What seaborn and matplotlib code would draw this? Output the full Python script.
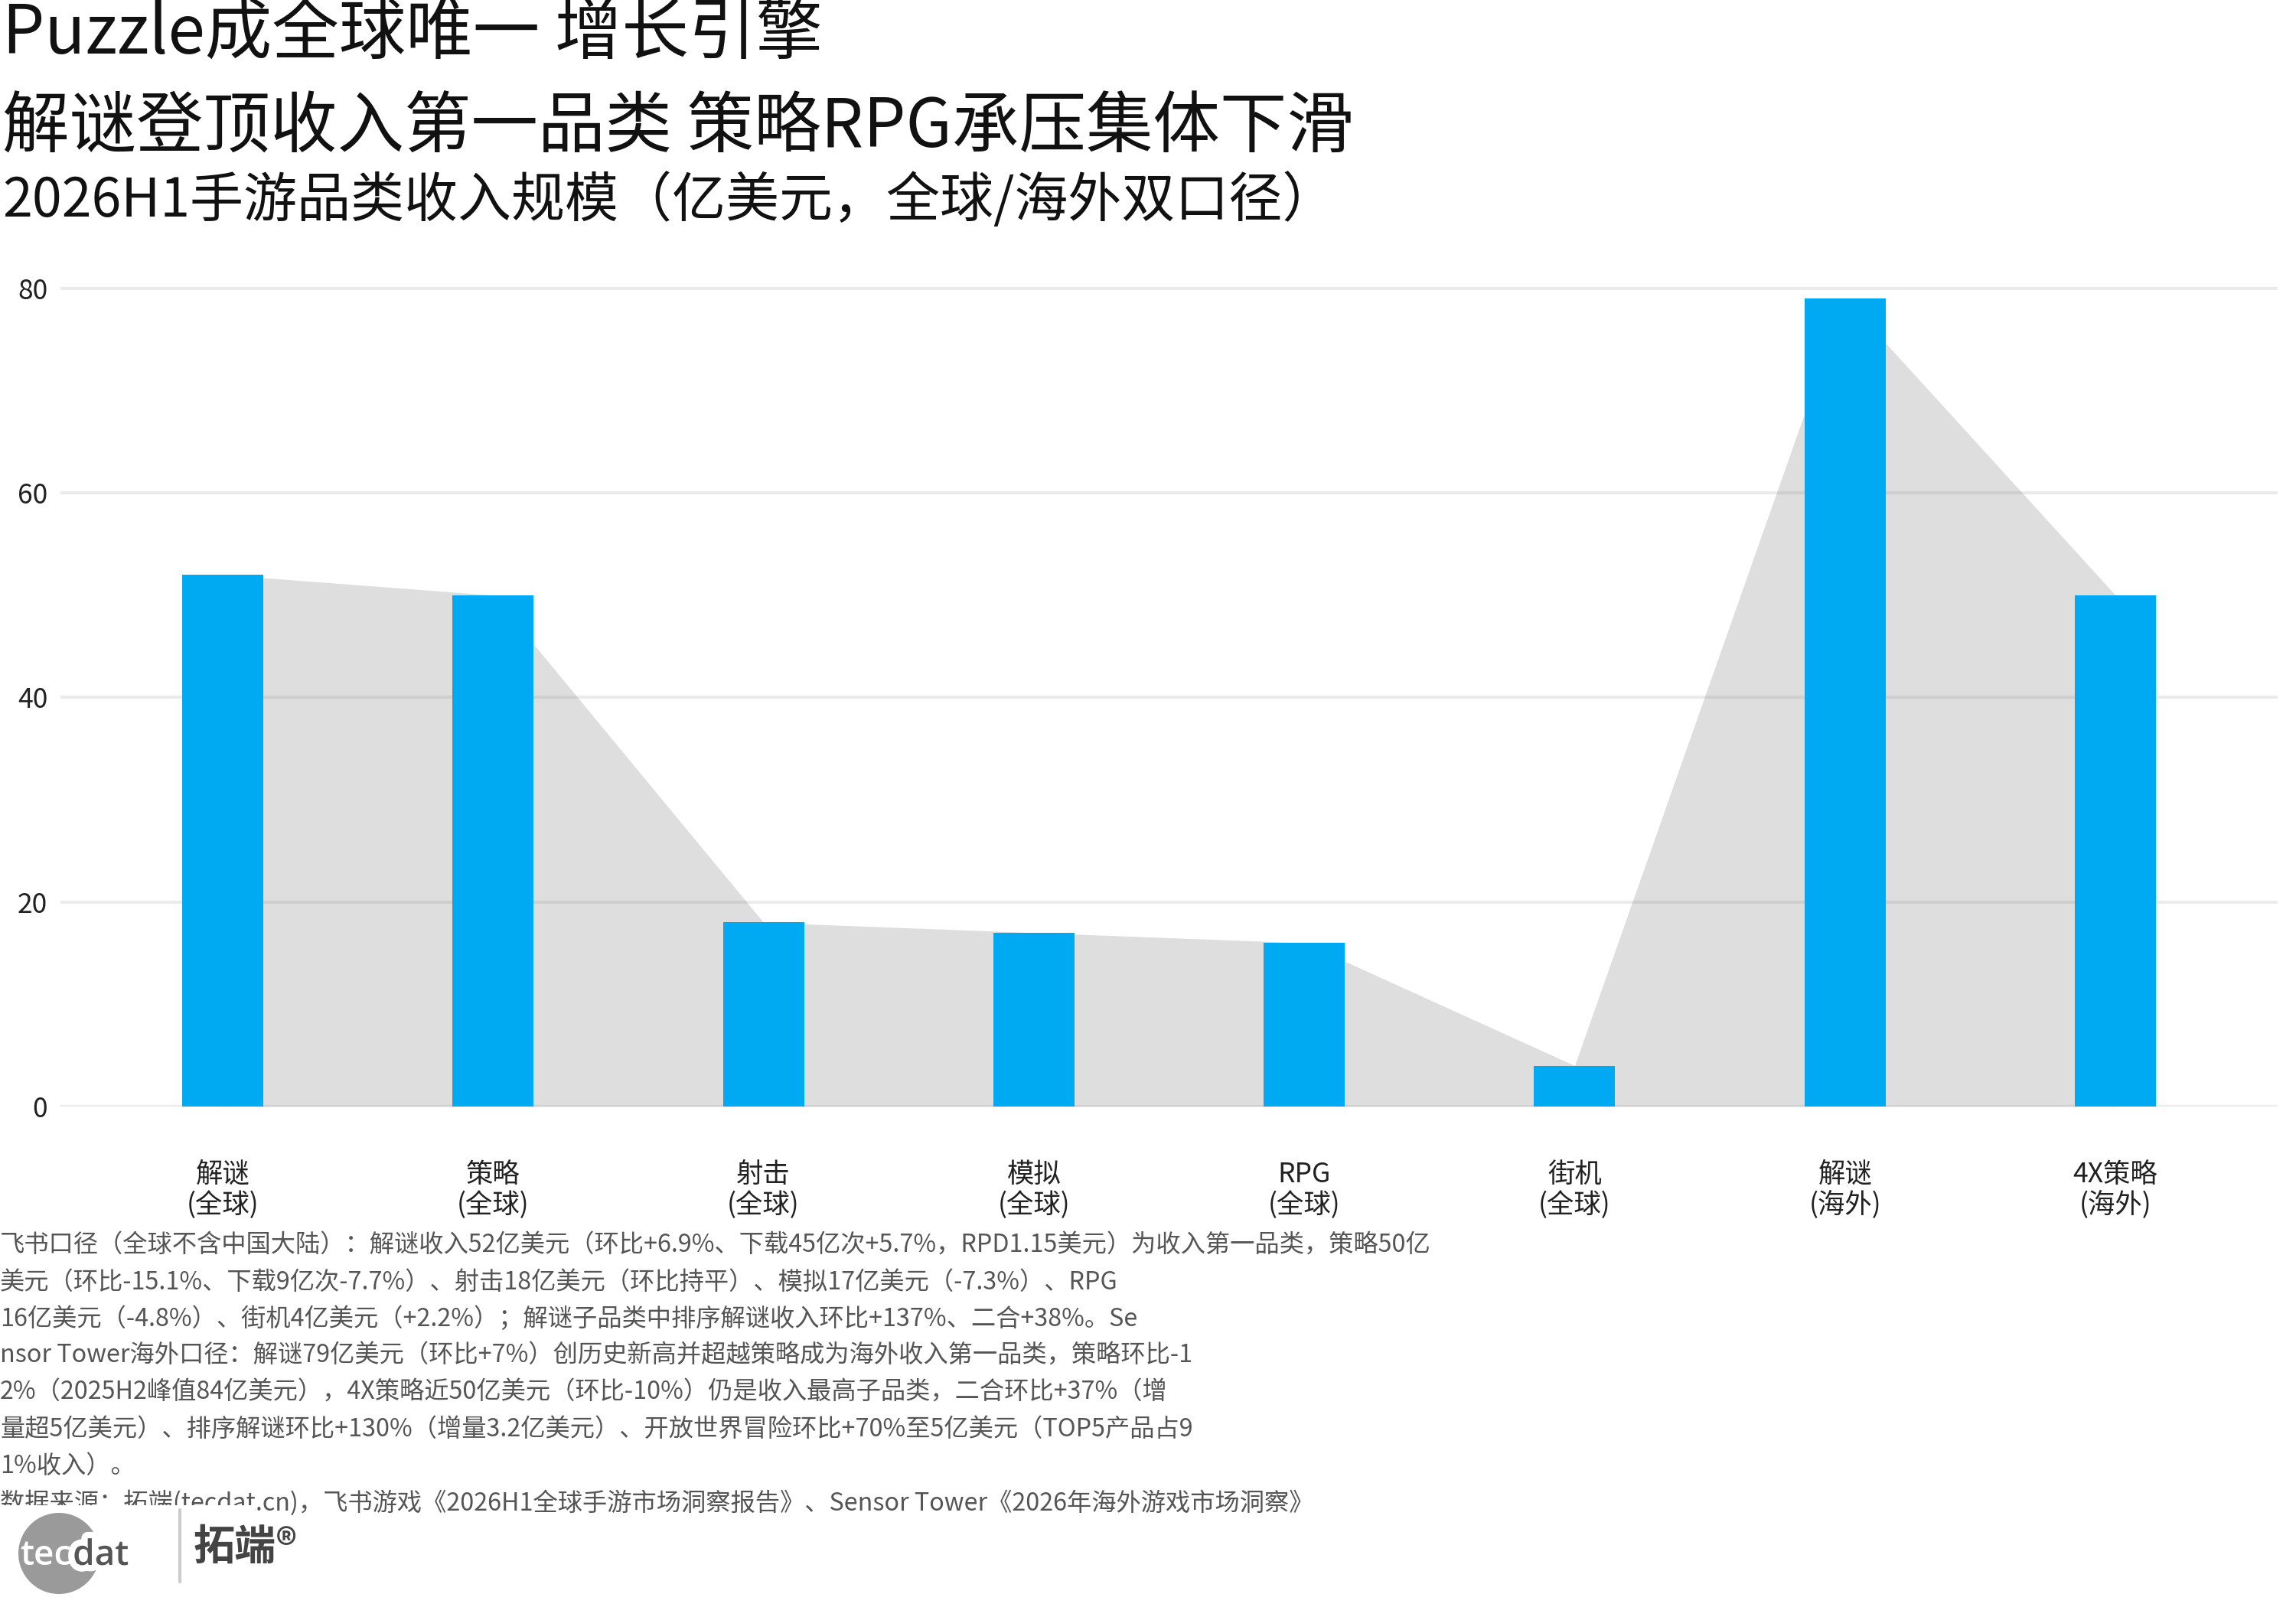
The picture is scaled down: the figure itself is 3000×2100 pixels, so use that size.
import numpy as np
import matplotlib
matplotlib.use("Agg")
import matplotlib.pyplot as plt
import matplotlib.patheffects as pe
from matplotlib.patches import Ellipse, Rectangle
import seaborn as sns

# data (亿美元)
categories = ["解谜\n(全球)", "策略\n(全球)", "射击\n(全球)", "模拟\n(全球)",
              "RPG\n(全球)", "街机\n(全球)", "解谜\n(海外)", "4X策略\n(海外)"]
revenue = [52, 50, 18, 17, 16, 4, 79, 50]
y_ticks = [0, 20, 40, 60, 80]

title_1 = "Puzzle成全球唯一 增长引擎"
title_2 = "解谜登顶收入第一品类 策略RPG承压集体下滑"
subtitle = "2026H1手游品类收入规模（亿美元，全球/海外双口径）"
notes = [
    "飞书口径（全球不含中国大陆）：解谜收入52亿美元（环比+6.9%、下载45亿次+5.7%，RPD1.15美元）为收入第一品类，策略50亿",
    "美元（环比-15.1%、下载9亿次-7.7%）、射击18亿美元（环比持平）、模拟17亿美元（-7.3%）、RPG",
    "16亿美元（-4.8%）、街机4亿美元（+2.2%）；解谜子品类中排序解谜收入环比+137%、二合+38%。Se",
    "nsor Tower海外口径：解谜79亿美元（环比+7%）创历史新高并超越策略成为海外收入第一品类，策略环比-1",
    "2%（2025H2峰值84亿美元），4X策略近50亿美元（环比-10%）仍是收入最高子品类，二合环比+37%（增",
    "量超5亿美元）、排序解谜环比+130%（增量3.2亿美元）、开放世界冒险环比+70%至5亿美元（TOP5产品占9",
    "1%收入）。",
    "数据来源：拓端(tecdat.cn)，飞书游戏《2026H1全球手游市场洞察报告》、Sensor Tower《2026年海外游戏市场洞察》",
]

sns.set_style("white")
plt.rcParams['font.family'] = ['Noto Sans CJK SC', 'DejaVu Sans']

W, H = 3000, 2100
fig = plt.figure(figsize=(10, 7), dpi=300)
ax = fig.add_axes([79 / W, 1 - 1446 / H, (2976 - 79) / W, (1446 - 350) / H])

# grey band joining the bar tops
pos = np.arange(len(revenue))
ax.fill_between(pos, revenue, 0, color="#808080", alpha=0.26, lw=0, zorder=1)

sns.barplot(x=categories, y=revenue, color="#00aaf2", saturation=1,
            width=0.3, linewidth=0, edgecolor="none", ax=ax, zorder=3)

ax.set_xlim(-0.6, 7.6)
ax.set_ylim(0, 82)
ax.set_yticks(y_ticks)
ax.yaxis.grid(True, color="#ebebeb", lw=1.0, zorder=0)
ax.xaxis.grid(False)
ax.set_axisbelow(True)
sns.despine(ax=ax, left=True, bottom=True)
ax.set_xlabel("")
ax.set_ylabel("")
ax.tick_params(axis="x", length=0, pad=17, labelsize=8.5, labelcolor="#222222")
ax.tick_params(axis="y", length=0, pad=4, labelsize=8.5, labelcolor="#222222")
for lab in ax.get_xticklabels():
    lab.set_linespacing(1.1)

# titles
fig.text(0.001, 1 - 45 / H, title_1, fontsize=21, va="center", ha="left", color="#111111")
fig.text(0.001, 1 - 168 / H, title_2, fontsize=21, va="center", ha="left", color="#111111")
fig.text(0.001, 1 - 263 / H, subtitle, fontsize=16.8, va="center", ha="left", color="#111111")

# footnotes
for i, line in enumerate(notes):
    fig.text(0.0, 1 - (1628 + 48 * i) / H, line, fontsize=7.75, va="center",
             ha="left", color="#555555")

# logo
fig.patches.append(Rectangle((0, 0), 333 / W, 1 - 1967 / H, transform=fig.transFigure,
                             facecolor="white", edgecolor="none", zorder=5))
fig.patches.append(Ellipse((77 / W, 1 - 2030 / H), 106 / W, 106 / H,
                           transform=fig.transFigure, facecolor="#9a9a9a",
                           edgecolor="none", zorder=6))
t_tec = fig.text(26 / W, 1 - 2045 / H, "tec", fontsize=11, color="white", ha="left",
                 va="baseline", family="Open Sans", fontweight="semibold", zorder=8)
renderer = fig.canvas.get_renderer()
x_end = t_tec.get_window_extent(renderer).x1 / (fig.dpi * fig.get_figwidth())
fig.text(x_end + 2 / W, 1 - 2045 / H, "dat", fontsize=11, color="#555555", ha="left",
         va="baseline", family="Open Sans", fontweight="semibold", zorder=7,
         path_effects=[pe.withStroke(linewidth=4, foreground="white")])
fig.lines.append(plt.Line2D([235 / W, 235 / W], [1 - 1973 / H, 1 - 2067 / H],
                            transform=fig.transFigure, color="#cccccc", lw=1, zorder=7))
fig.text(253 / W, 1 - 2022 / H, "拓端®", fontsize=13, color="#444444", ha="left",
         va="center", fontweight="bold", zorder=7)

fig.savefig("out.png", dpi=300)
